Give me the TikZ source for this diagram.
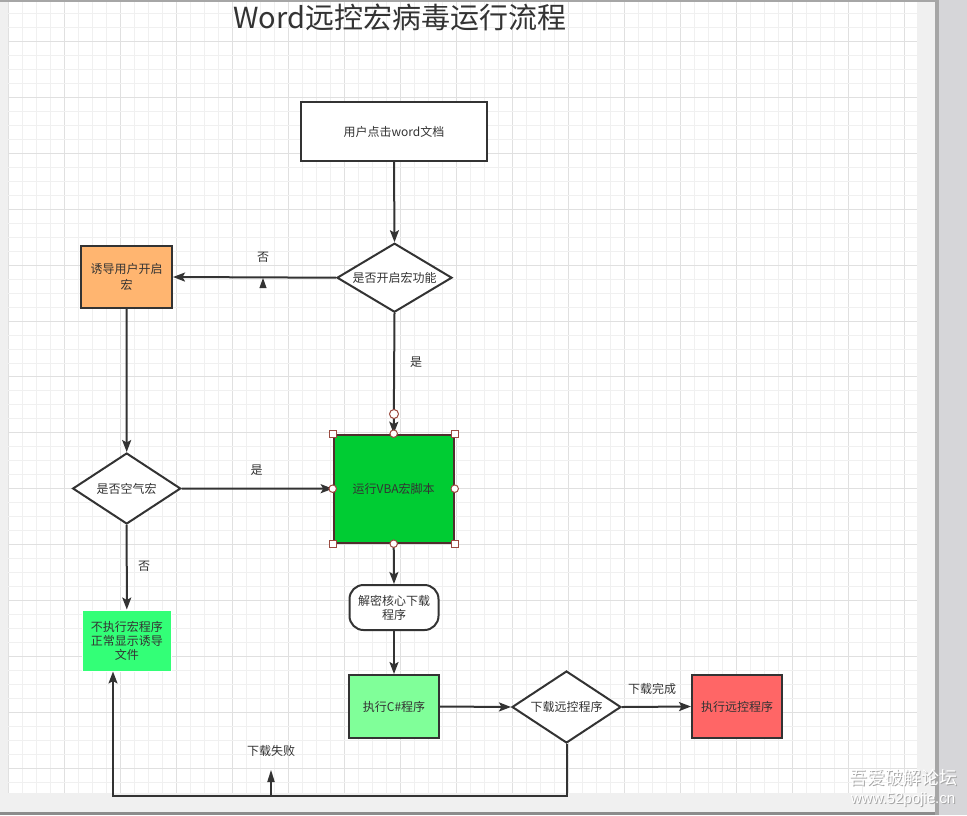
\documentclass[tikz,border=0pt]{standalone}
\usepackage{fontspec}
\setmainfont{Noto Sans CJK SC}
\newfontfamily\wmlatin{Liberation Sans}
\usetikzlibrary{shapes.geometric,arrows.meta,calc}
\definecolor{ink}{HTML}{333333}
\definecolor{gridminor}{HTML}{F0F0F0}
\definecolor{gridmajor}{HTML}{E0E0E0}
\definecolor{paneg}{HTML}{F0F0F0}
\definecolor{stripg}{HTML}{D6D6D9}
\definecolor{edgeg}{HTML}{A6A6A6}
\definecolor{orangef}{HTML}{FFB570}
\definecolor{vbagreen}{HTML}{00CC33}
\definecolor{csgreen}{HTML}{80FF99}
\definecolor{nogreen}{HTML}{33FF77}
\definecolor{redf}{HTML}{FF6666}
\definecolor{hcol}{HTML}{9A4A40}
\begin{document}
\begin{tikzpicture}[x=1pt,y=-1pt,
  txt/.style={text=ink, font=\fontsize{12}{15.5}\selectfont, align=center},
  box/.style={txt, draw=ink, line width=2pt, inner sep=1pt},
  dia/.style={txt, diamond, draw=ink, line width=2pt, fill=white, inner sep=0pt, shape aspect=1.6},
  edge/.style={draw=ink, line width=2pt, -{Stealth[length=12pt,width=9pt,inset=2.5pt]}},
  hsq/.style={draw=hcol, fill=white, line width=1pt, minimum size=7pt, inner sep=0pt},
  hcirc/.style={circle, draw=hcol, fill=white, line width=1pt, minimum size=7.5pt, inner sep=0pt},
  labmark/.style={fill=ink, draw=none}
]
\useasboundingbox (0,0) rectangle (967,815);
% canvas and surroundings
\fill[paneg] (0,0) rectangle (967,815);
\fill[white] (8,2) rectangle (917,793);
\foreach \k in {0,...,64} {
  \pgfmathsetmacro{\xx}{8+14*\k}
  \pgfmathtruncatemacro{\m}{mod(\k,4)}
  \ifnum\m=0 \draw[gridmajor, line width=1pt] (\xx,2) -- (\xx,793);
  \else \draw[gridminor, line width=1pt] (\xx,2) -- (\xx,793); \fi
}
\foreach \k in {1,...,56} {
  \pgfmathsetmacro{\yy}{-0.21+13.97*\k}
  \pgfmathtruncatemacro{\m}{mod(\k,4)}
  \ifnum\m=3 \draw[gridmajor, line width=1pt] (8,\yy) -- (917,\yy);
  \else \draw[gridminor, line width=1pt] (8,\yy) -- (917,\yy); \fi
}
\fill[edgeg] (0,0) rectangle (935,1.5);
\fill[black!45] (0,812) rectangle (935,815);
\fill[stripg] (935,0) rectangle (967,815);
\fill[edgeg] (935,0) rectangle (939,815);

% title
\node[text=ink, font=\fontsize{29}{31}\selectfont, inner sep=0pt] (title) at (400,17) {Word远控宏病毒运行流程};

% nodes
\node[box, fill=white, minimum width=186pt, minimum height=59pt] (b1) at (394,131.5) {用户点击word文档};
\node[dia, minimum width=115pt, minimum height=69pt] (d1) at (394.5,277.7) {是否开启宏功能};
\node[box, fill=orangef, minimum width=91pt, minimum height=62pt] (o1) at (126.5,277) {诱导用户开启\\宏};
\node[dia, minimum width=108pt, minimum height=71pt] (d2) at (126.7,488.5) {是否空气宏};
\node[box, fill=vbagreen, draw={rgb,255:red,80;green,45;blue,45}, minimum width=120pt, minimum height=108pt] (g1) at (393.7,488.7) {运行VBA宏脚本};
\node[box, fill=white, rounded corners=14pt, minimum width=89pt, minimum height=45pt] (r1) at (394,607.5) {解密核心下载\\[-1.5pt]程序};
\node[box, fill=csgreen, minimum width=90pt, minimum height=63pt] (c1) at (394,706.5) {执行C\#程序};
\node[dia, minimum width=109pt, minimum height=72pt] (d3) at (566.5,707) {下载远控程序};
\node[box, fill=redf, minimum width=90pt, minimum height=63pt] (rd) at (737,706.5) {执行远控程序};
\node[txt, fill=nogreen, draw=white, line width=1pt, minimum width=89pt, minimum height=61pt, inner sep=1pt] (ng) at (126.8,640.5) {不执行宏程序\\[-1.5pt]正常显示诱导\\[-1.5pt]文件};

% connectors
\draw[edge] (b1.south) -- (d1.north);
\draw[edge] (d1.west) -- (o1.east);
\draw[edge] (o1.south) -- (d2.north);
\draw[edge] (d2.east) -- (g1.west);
\draw[edge] (d2.south) -- (ng.north);
\draw[edge] (d1.south) -- (g1.north);
\draw[edge] (g1.south) -- (r1.north);
\draw[edge] (r1.south) -- (c1.north);
\draw[edge] (c1.east) -- (d3.west);
\draw[edge] (d3.east) -- (rd.west);
\coordinate (loopc) at (113,796);
\draw[edge] (d3.south) |- (loopc) -- (ng.south -| loopc);

% edge labels
\node[txt] (l1) at (263,257) {否};
\node[txt] (l2) at (256.5,470) {是};
\node[txt] (l3) at (144,566) {否};
\node[txt] (l4) at (416,362) {是};
\node[txt] (l5) at (652,689) {下载完成};
\node[txt] (l6) at (271,751) {下载失败};

% label anchor marks
\coordinate (m1) at (263,278);
\fill[labmark] (m1) -- ++(3.6,10) -- ++(-7.2,0) -- cycle;
\coordinate (m2) at (271,796);
\draw[ink, line width=2pt] (m2) -- ++(0,-14);
\fill[labmark] ($(m2)+(0,-26)$) -- ++(3.8,12) -- ++(-7.6,0) -- cycle;

% selection handles
\node[hsq] (hnw) at (g1.north west) {};
\node[hsq] (hne) at (g1.north east) {};
\node[hsq] (hsw) at (g1.south west) {};
\node[hsq] (hse) at (g1.south east) {};
\node[hcirc] (hn) at (g1.north) {};
\node[hcirc] (hs) at (g1.south) {};
\node[hcirc] (hw) at (g1.west) {};
\node[hcirc] (he) at (g1.east) {};
\node[hcirc, minimum size=9pt] (heg) at (394,414) {};

% watermark
\node[text=black!35, font=\fontsize{18}{20}\selectfont] (wm1s) at (904,779) {吾爱破解论坛};
\node[text=white, font=\fontsize{18}{20}\selectfont] (wm1) at (903,778) {吾爱破解论坛};
\node[text=black!35, font=\wmlatin\fontsize{15}{17}\selectfont] (wm2s) at (904,801) {www.52pojie.cn};
\node[text=white, font=\wmlatin\fontsize{15}{17}\selectfont] (wm2) at (903,800) {www.52pojie.cn};
\end{tikzpicture}
\end{document}
